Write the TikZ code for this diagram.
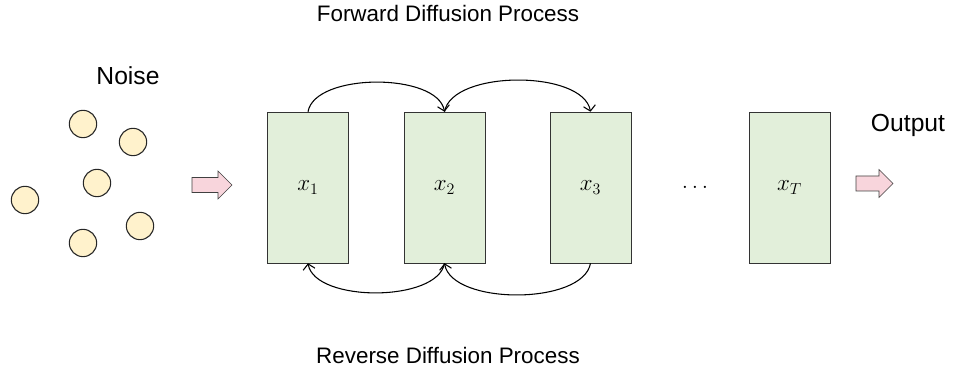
\documentclass[tikz,border=0pt]{standalone}
\usepackage{fontspec}
\setmainfont{Liberation Sans}
\usetikzlibrary{arrows.meta}
\definecolor{stepgreen}{HTML}{E2EFDA}
\definecolor{noiseyellow}{HTML}{FFF2CC}
\definecolor{flowpink}{HTML}{F8D5DC}
\begin{document}
\begin{tikzpicture}[x=0.75pt,y=-0.75pt,
    state/.style={draw=black!80,fill=stepgreen,minimum width=60.75pt,minimum height=113.25pt,inner sep=0pt,font=\fontsize{18}{21}\selectfont},
    dot/.style={circle,draw=black!85,thick,fill=noiseyellow,minimum size=20.5pt,inner sep=0pt},
    flow/.style={draw=black!75,fill=flowpink,line join=miter},
    title/.style={font=\fontsize{16.8}{20}\selectfont},
    side/.style={font=\fontsize{18.5}{22}\selectfont},
    jump/.style={thick,-{Straight Barb[length=4pt,width=9pt]}}]
    \useasboundingbox (0,0) rectangle (955,373);
    % noise samples
    \node[dot] (n1) at (83,124) {};
    \node[dot] (n2) at (133,142) {};
    \node[dot] (n3) at (97,183) {};
    \node[dot] (n4) at (25,200) {};
    \node[dot] (n5) at (140,226) {};
    \node[dot] (n6) at (83,243) {};
    \node[side] (noise) at (128,76) {Noise};
    \draw[flow] (192,177.5) -- (218,177.5) -- (218,171) -- (232,185) -- (218,199) -- (218,192.5) -- (192,192.5) -- cycle;
    % diffusion steps
    \node[state] (b1) at (308,187.5) {$x_1$};
    \node[state] (b2) at (444.5,187.5) {$x_2$};
    \node[state] (b3) at (590.5,187.5) {$x_3$};
    \node[font=\fontsize{16}{18}\selectfont] (dots) at (695,187) {$\ldots$};
    \node[state] (bT) at (789.5,187.5) {$x_T$};
    \draw[flow] (856,176) -- (879,176) -- (879,169.5) -- (893,183.5) -- (879,197.5) -- (879,191) -- (856,191) -- cycle;
    \node[side] (output) at (908,125) {Output};
    \node[title] (fwd) at (448,14) {Forward Diffusion Process};
    \node[title] (rev) at (448,355) {Reverse Diffusion Process};
    \draw[jump] (b1.north) to[out=80,in=100,looseness=0.75] (b2.north);
    \draw[jump] (b2.north) to[out=80,in=100,looseness=0.75] (b3.north);
    \draw[jump] (b3.south) to[out=-100,in=-80,looseness=0.75] (b2.south);
    \draw[jump] (b2.south) to[out=-100,in=-80,looseness=0.75] (b1.south);
\end{tikzpicture}
\end{document}
